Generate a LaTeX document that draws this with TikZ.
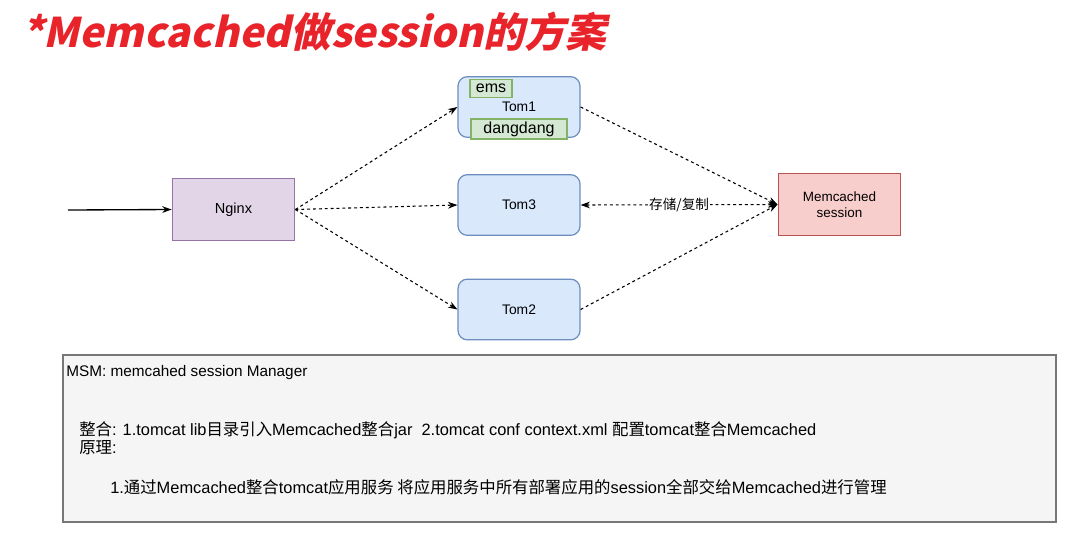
\documentclass[tikz,border=0pt]{standalone}
\usepackage{fontspec}
\setmainfont{Liberation Sans}
\newfontfamily\cjk{Noto Sans CJK SC}
\newfontfamily\titlefont[FakeSlant=0.22]{Noto Sans CJK SC}
\usetikzlibrary{arrows.meta}
\definecolor{titlered}{HTML}{E8232A}
\definecolor{bluefill}{HTML}{DAE8FC}
\definecolor{blueline}{HTML}{6C8EBF}
\definecolor{purpfill}{HTML}{E1D5E7}
\definecolor{purpline}{HTML}{9673A6}
\definecolor{redfill}{HTML}{F8CECC}
\definecolor{redline}{HTML}{B85450}
\definecolor{greenfill}{HTML}{D5E8D4}
\definecolor{greenline}{HTML}{82B366}
\definecolor{greyfill}{HTML}{F5F5F5}
\definecolor{greyline}{HTML}{777777}
\tikzset{
  px/.style={x=0.75pt,y=-0.75pt},
  box/.style={draw, line width=0.9pt, inner sep=0pt, font=\fontsize{10.4pt}{12pt}\selectfont},
  tomcat/.style={box, fill=bluefill, draw=blueline, rounded corners=7pt, minimum width=91.5pt, minimum height=45.5pt},
  nginxbox/.style={box, fill=purpfill, draw=purpline, minimum width=92pt, minimum height=46pt, font=\fontsize{10.9pt}{12pt}\selectfont},
  memcbox/.style={box, fill=redfill, draw=redline, minimum width=92pt, minimum height=46pt, align=center, font=\fontsize{10.1pt}{12pt}\selectfont},
  appbox/.style={box, fill=greenfill, draw=greenline, font=\fontsize{12pt}{14pt}\selectfont},
  flow/.style={line width=0.8pt, dash pattern=on 2.2pt off 2.2pt, -{Stealth[length=7pt,width=5pt]}},
  bothflow/.style={flow, {Stealth[length=7pt,width=5pt]}-{Stealth[length=7pt,width=5pt]}},
  txt/.style={anchor=base west, inner sep=0pt, font=\fontsize{12.3pt}{14pt}\selectfont}
}
\begin{document}
\begin{tikzpicture}[px]
\useasboundingbox (0,0) rectangle (1084,533);
\fill[white] (0,0) rectangle (1084,533);
% title
\node[anchor=base west, inner sep=0pt, text=titlered, font=\fontsize{30.6pt}{36pt}\selectfont\titlefont\bfseries] (title) at (22,47) {*Memcached做session的方案};
% nodes
\node[nginxbox] (nginx) at (233.5,209.5) {Nginx};
\node[tomcat] (tom1) at (519,107) {};
\node[anchor=center, inner sep=0pt, font=\fontsize{10.4pt}{12pt}\selectfont] (tom1label) at (519,107) {Tom1};
\node[appbox, minimum width=31.5pt, minimum height=14pt] (ems) at (491,88.5) {ems};
\node[appbox, minimum width=72pt, minimum height=15pt] (dang) at (519,129) {dangdang};
\node[tomcat] (tom3) at (519,205) {Tom3};
\node[tomcat] (tom2) at (519,309.5) {Tom2};
\node[memcbox] (memc) at (839.5,204.5) {Memcached\\session};
\coordinate (src) at (68,210);
% connectors
\draw[line width=1pt, -{Stealth[length=7pt,width=5pt]}] (src) -- (nginx.west);
\draw[flow] (nginx.east) -- (tom1.west);
\draw[flow] (nginx.east) -- (tom3.west);
\draw[flow] (nginx.east) -- (tom2.west);
\draw[flow] (tom1.east) -- (memc.west);
\draw[flow] (tom2.east) -- (memc.west);
\draw[bothflow] (tom3.east) -- node[fill=white, inner sep=1pt, font=\fontsize{10.2pt}{12pt}\selectfont\cjk] (lbl) {存储/复制} (memc.west);
% bottom box
\node[draw=greyline, fill=greyfill, line width=0.8pt, minimum width=744.75pt, minimum height=125.25pt, inner sep=0pt] (msm) at (559.5,438.5) {};
\node[txt, font=\fontsize{11.5pt}{13pt}\selectfont] (l1) at (66,376) {MSM: memcahed session Manager};
\node[txt] (l2) at (79,435) {{\cjk 整合}: 1.tomcat lib{\cjk 目录引入}Memcached{\cjk 整合}jar\ \ 2.tomcat conf context.xml {\cjk 配置}tomcat{\cjk 整合}Memcached};
\node[txt] (l3) at (79,453) {{\cjk 原理}:};
\node[txt] (l4) at (110,493) {1.{\cjk 通过}Memcached{\cjk 整合}tomcat{\cjk 应用服务 将应用服务中所有部署应用的}session{\cjk 全部交给}Memcached{\cjk 进行管理}};
\end{tikzpicture}
\end{document}
